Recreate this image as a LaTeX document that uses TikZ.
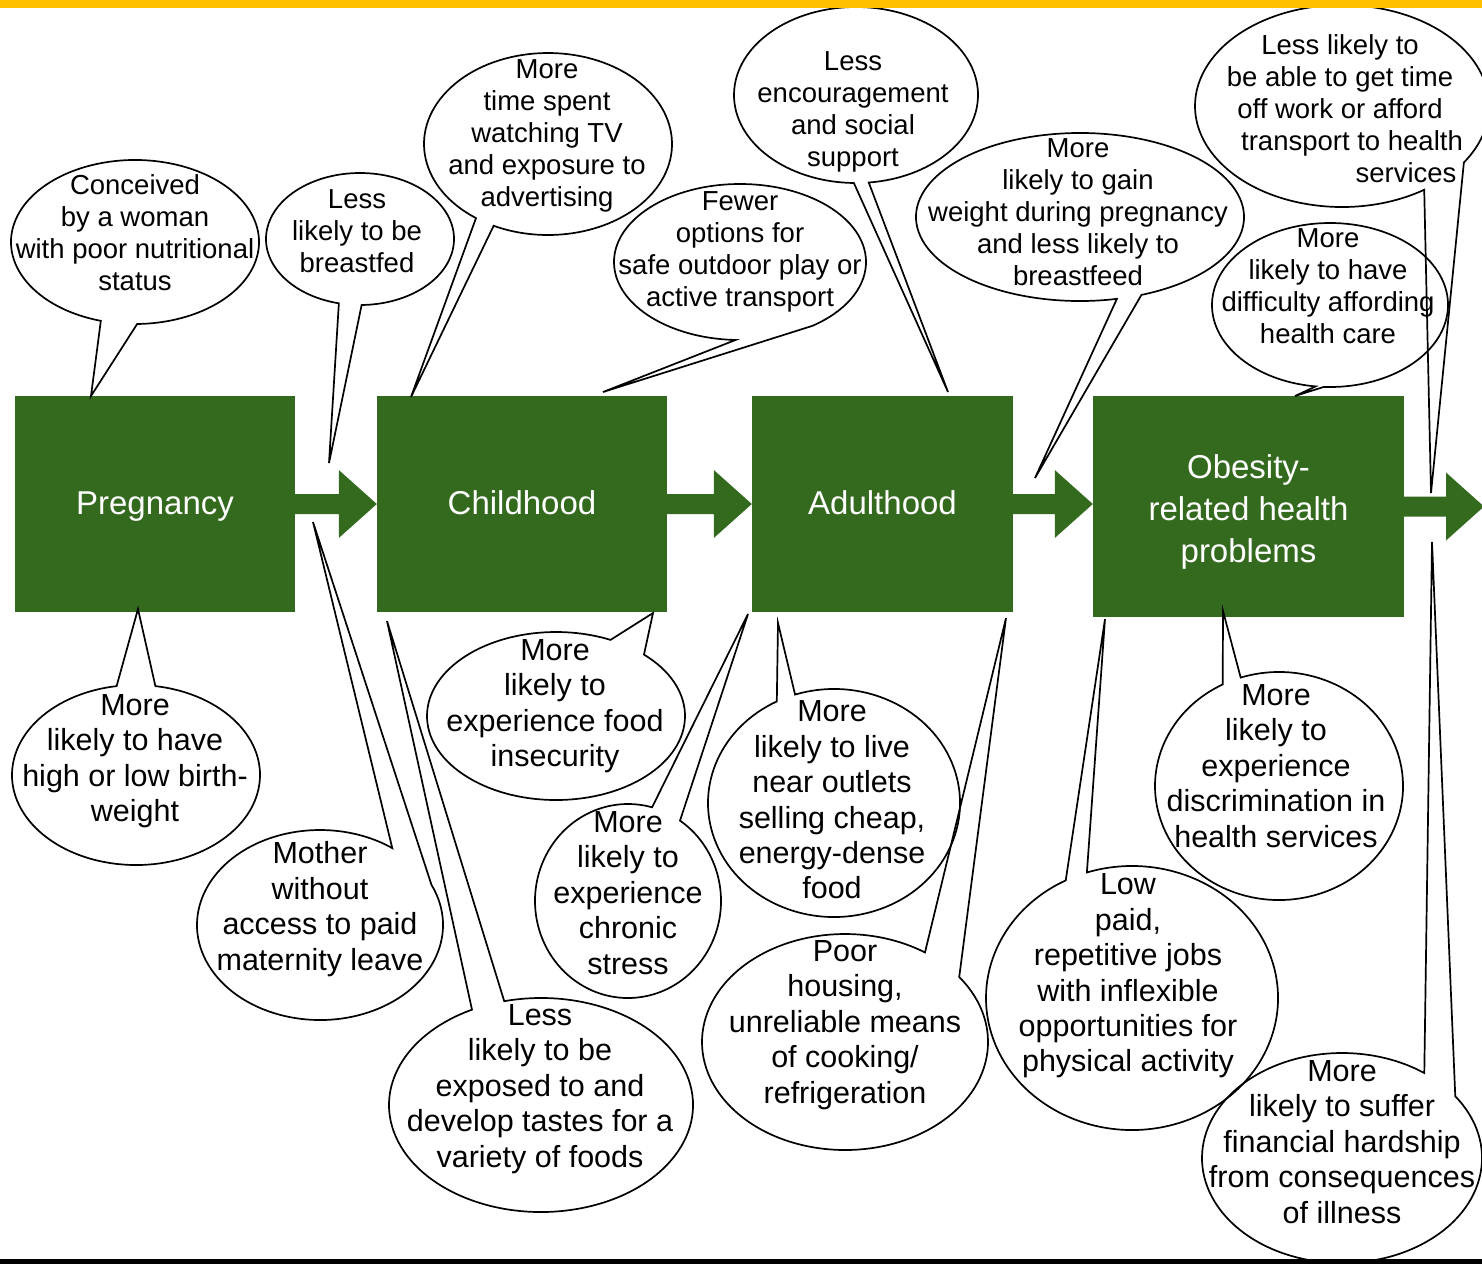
\documentclass[tikz,border=0pt]{standalone}
\usepackage{fontspec}
\setmainfont{Liberation Sans}
\usetikzlibrary{calc}
\definecolor{stagegreen}{HTML}{336A1E}
\definecolor{bandyellow}{HTML}{FFC000}

\begin{document}
\begin{tikzpicture}[x=1pt,y=-1pt,
    stage/.style={fill=stagegreen,text=white,align=center,inner sep=0pt,
      font=\fontsize{33}{42}\selectfont},
    oneline/.style={text height=28pt,text depth=7pt},
    uptext/.style={align=center,inner sep=0pt,font=\fontsize{27.5}{32}\selectfont},
    lowtext/.style={align=center,inner sep=0pt,font=\fontsize{30.5}{35.4}\selectfont},
    bubble/.style={line width=1.7pt}]
  \useasboundingbox (0,0) rectangle (1482,1264);

  % life stages
  \node[stage,oneline,minimum width=280pt,minimum height=216pt] (preg) at (155,504) {Pregnancy};
  \node[stage,oneline,minimum width=290pt,minimum height=216pt] (child) at (522,504) {Childhood};
  \node[stage,oneline,minimum width=261pt,minimum height=216pt] (adult) at (882.5,504) {Adulthood};
  \node[stage,minimum width=311pt,minimum height=221pt] (obes) at (1248.5,506.5)
    {\rule{0pt}{34pt}Obesity-\\related health\\problems};
  \coordinate (exit) at (1484,506.5);

  \foreach \src/\dst in {preg/child.west,child/adult.west,adult/obes.west,obes/exit}
    \fill[stagegreen] ($(\src.east)+(0,-10)$) -- ($(\dst |- \src.east)+(-38,-10)$)
      -- ++(0,-24) -- (\dst |- \src.east) -- ++(-38,34) -- ++(0,-24)
      -- ($(\src.east)+(0,10)$) -- cycle;

  % where the callouts point
  \coordinate (conceived-tip) at (91,396);
  \coordinate (breastfed-tip) at (329,463);
  \coordinate (screen-tip) at (411,397);
  \coordinate (outdoor-tip) at (603,392);
  \coordinate (support-tip) at (948,392);
  \coordinate (gain-tip) at (1035,478);
  \coordinate (timeoff-tip) at (1431,493);
  \coordinate (afford-tip) at (1295,396);
  \coordinate (birthwt-tip) at (138,609);
  \coordinate (leave-tip) at (313,522);
  \coordinate (tastes-tip) at (387,621);
  \coordinate (foodins-tip) at (653,613);
  \coordinate (stress-tip) at (748,614);
  \coordinate (outlets-tip) at (778,623);
  \coordinate (housing-tip) at (1006,618);
  \coordinate (jobs-tip) at (1105,619);
  \coordinate (discrim-tip) at (1223,611);
  \coordinate (hardship-tip) at (1432,542);

  % texts above the stages
  \node[uptext] (conceived) at (135,233) {Conceived\\by a woman\\with poor nutritional\\status};
  \node[uptext] (breastfed) at (357,231) {Less\\likely to be\\breastfed};
  \node[uptext] (screen) at (547,136) {More\\time spent\\watching TV\\and exposure to\\advertising};
  \node[uptext] (outdoor) at (740,252) {Fewer\\options for\\safe outdoor play or\\active transport};
  \node[uptext] (support) at (853,112) {Less\\encouragement\\and social\\support};
  \node[uptext] (gain) at (1078,212)
    {More\\likely to gain\\weight during pregnancy\\and less likely to\\breastfeed};
  \node[uptext] (timeoff) at (1340,109) {Less likely to\\be able to get time\\off work or afford\\
    \hspace*{24pt}transport to health\\\hspace*{132pt}services};
  \node[uptext] (afford) at (1328,286) {More\\likely to have\\difficulty affording\\health care};

  % texts below the stages
  \node[lowtext] (birthwt) at (135,761) {More\\likely to have\\high or low birth-\\weight};
  \node[lowtext] (leave) at (320,909) {Mother\\without\\access to paid\\maternity leave};
  \node[lowtext] (tastes) at (540,1089)
    {Less\\likely to be\\exposed to and\\develop tastes for a\\variety of foods};
  \node[lowtext] (foodins) at (555,706) {More\\likely to\\experience food\\insecurity};
  \node[lowtext] (stress) at (628,893) {More\\likely to\\experience\\chronic\\stress};
  \node[lowtext] (outlets) at (832,800)
    {More\\likely to live\\near outlets\\selling cheap,\\energy-dense\\food};
  \node[lowtext] (housing) at (845,1025)
    {Poor\\housing,\\unreliable means\\of cooking/\\refrigeration};
  \node[lowtext] (jobs) at (1128,976)
    {Low\\paid,\\repetitive jobs\\with inflexible\\opportunities for\\physical activity};
  \node[lowtext] (discrim) at (1276,766)
    {More\\likely to\\experience\\discrimination in\\health services};
  \node[lowtext] (hardship) at (1342,1142)
    {More\\likely to suffer\\financial hardship\\from consequences\\of illness};

  % speech bubbles: centre / radii / tail between two angles / tip
  \foreach \cx/\cy/\rx/\ry/\ta/\tb/\tip [evaluate=\ta as \te using \ta+360] in {
      135/242/124/82/89/106/conceived-tip,
      360/239/94/66/89/103/breastfed-tip,
      548/144/124/91/116/125.5/screen-tip,
      740/262/126/78/55/92/outdoor-tip,
      856/95/122/88/84/91/support-tip,
      1080/217/164/84/68/77/gain-tip,
      1342/106/147/101/34/56/timeoff-tip,
      1330/305/118/82/93/97/afford-tip,
      136/775/124/90/261/279/birthwt-tip,
      320/925/123/95/306/335/leave-tip,
      541/1105/152/107/243/256/tastes-tip,
      556/716/129/84/295/313/foodins-tip,
      628/901/93/97/285/304/stress-tip,
      834/803/126/114/243/252/outlets-tip,
      845/1042/143/108/304/323/housing-tip,
      1132/998/146/132/243/252/jobs-tip,
      1279/786/124/114/243/252/discrim-tip,
      1342/1158/140/105/306/324/hardship-tip}
    \draw[bubble] (\cx,\cy) ++({\rx*cos(\tb)},{\ry*sin(\tb)})
      arc[start angle=\tb, end angle=\te, x radius=\rx, y radius=\ry] -- (\tip) -- cycle;

  % page bands
  \fill[bandyellow] (0,0) rectangle (1482,8);
  \fill[black] (0,1259) rectangle (1482,1264);
\end{tikzpicture}
\end{document}
